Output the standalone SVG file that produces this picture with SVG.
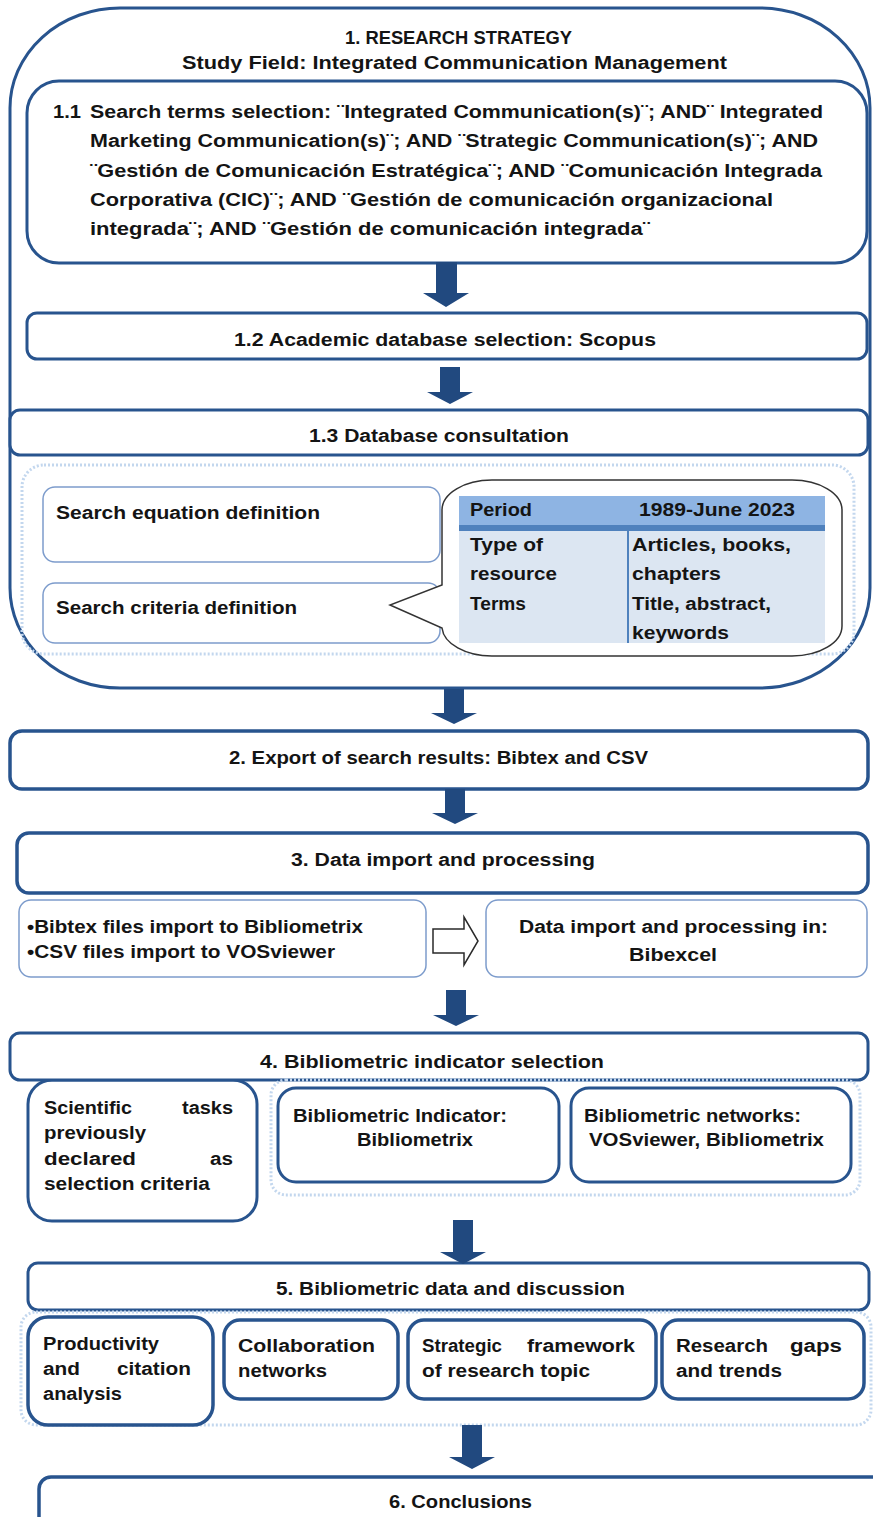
<svg xmlns="http://www.w3.org/2000/svg" width="873" height="1517" viewBox="0 0 873 1517">
<defs>
<style>
.t{font-family:"Liberation Sans",Arial,sans-serif;font-weight:bold;font-size:18px;fill:#141414}
.m{text-anchor:middle}
.bx{fill:#fff;stroke:#28548e;stroke-width:3}
.bxt{fill:#fff;stroke:#28548e;stroke-width:3.5}
.lt{fill:#fff;stroke:#7d9ccc;stroke-width:1.5}
.dot{fill:none;stroke:#c3d7ee;stroke-width:3;stroke-dasharray:2 2}
.arr{fill:#21497f}
.hol{fill:#fff;stroke:#2a2a2a;stroke-width:1.5}
</style>
</defs>
<rect width="873" height="1517" fill="#fff"/>

<g id="strategy">
<rect class="bx" x="10" y="8" width="860" height="680" rx="110" ry="100"/>
<text class="t" x="345" y="44" textLength="227" lengthAdjust="spacingAndGlyphs">1. RESEARCH STRATEGY</text>
<text class="t" x="182" y="69" textLength="545" lengthAdjust="spacingAndGlyphs">Study Field: Integrated Communication Management</text>
</g>

<g id="n1_1">
<rect class="bx" x="27" y="81" width="840" height="182" rx="32"/>
<text class="t" x="53" y="118" textLength="28" lengthAdjust="spacingAndGlyphs">1.1</text>
<text class="t" x="90" y="118" textLength="733" lengthAdjust="spacingAndGlyphs">Search terms selection: ¨Integrated Communication(s)¨; AND¨ Integrated</text>
<text class="t" x="90" y="147" textLength="728" lengthAdjust="spacingAndGlyphs">Marketing Communication(s)¨; AND ¨Strategic Communication(s)¨; AND</text>
<text class="t" x="90" y="177" textLength="732" lengthAdjust="spacingAndGlyphs">¨Gestión de Comunicación Estratégica¨; AND ¨Comunicación Integrada</text>
<text class="t" x="90" y="206" textLength="683" lengthAdjust="spacingAndGlyphs">Corporativa (CIC)¨; AND ¨Gestión de comunicación organizacional</text>
<text class="t" x="90" y="235" textLength="560" lengthAdjust="spacingAndGlyphs">integrada¨; AND ¨Gestión de comunicación integrada¨</text>
</g>

<g id="n1_2">
<rect class="bx" x="27" y="313" width="840" height="46" rx="10"/>
<text class="t" x="234" y="346" textLength="422" lengthAdjust="spacingAndGlyphs">1.2 Academic database selection: Scopus</text>
</g>

<g id="n1_3">
<rect class="bx" x="10" y="410" width="858" height="45" rx="10"/>
<text class="t" x="309" y="442" textLength="260" lengthAdjust="spacingAndGlyphs">1.3 Database consultation</text>
</g>

<g id="consultation">
<rect class="dot" x="22" y="465" width="832" height="189" rx="22"/>
<rect class="lt" x="43" y="487" width="397" height="75" rx="12"/>
<text class="t" x="56" y="519" textLength="264" lengthAdjust="spacingAndGlyphs">Search equation definition</text>
<rect class="lt" x="43" y="583" width="397" height="60" rx="12"/>
<text class="t" x="56" y="614" textLength="241" lengthAdjust="spacingAndGlyphs">Search criteria definition</text>
</g>

<g id="criteria_table">
<path d="M492 480 H792 A50 30 0 0 1 842 510 V626 A50 30 0 0 1 792 656 H492 A50 30 0 0 1 442 628 L390 605 L442 585 V510 A50 30 0 0 1 492 480 Z" fill="#fff" stroke="#333" stroke-width="1.5"/>
<rect x="459" y="496" width="366" height="29" fill="#8eb4e3"/>
<rect x="459" y="525" width="366" height="6" fill="#4f81bd"/>
<rect x="459" y="531" width="366" height="112" fill="#dce6f2"/>
<line x1="628" y1="531" x2="628" y2="643" stroke="#4f81bd" stroke-width="2"/>
<text class="t" x="470" y="516" textLength="62" lengthAdjust="spacingAndGlyphs">Period</text>
<text class="t" x="639" y="516" textLength="156" lengthAdjust="spacingAndGlyphs">1989-June 2023</text>
<text class="t" x="470" y="551" textLength="73" lengthAdjust="spacingAndGlyphs">Type of</text>
<text class="t" x="470" y="580" textLength="87" lengthAdjust="spacingAndGlyphs">resource</text>
<text class="t" x="470" y="610" textLength="56" lengthAdjust="spacingAndGlyphs">Terms</text>
<text class="t" x="632" y="551" textLength="159" lengthAdjust="spacingAndGlyphs">Articles, books,</text>
<text class="t" x="632" y="580" textLength="89" lengthAdjust="spacingAndGlyphs">chapters</text>
<text class="t" x="632" y="610" textLength="139" lengthAdjust="spacingAndGlyphs">Title, abstract,</text>
<text class="t" x="632" y="639" textLength="97" lengthAdjust="spacingAndGlyphs">keywords</text>
</g>

<g id="n2">
<rect class="bxt" x="10" y="731" width="858" height="58" rx="12"/>
<text class="t" x="229" y="764" textLength="419" lengthAdjust="spacingAndGlyphs">2. Export of search results: Bibtex and CSV</text>
</g>

<g id="n3">
<rect class="bxt" x="17" y="833" width="851" height="60" rx="12"/>
<text class="t" x="291" y="866" textLength="304" lengthAdjust="spacingAndGlyphs">3. Data import and processing</text>
</g>

<g id="n3_left">
<rect class="lt" x="19" y="900" width="407" height="77" rx="12"/>
<text class="t" x="27" y="933" textLength="336" lengthAdjust="spacingAndGlyphs">•Bibtex files import to Bibliometrix</text>
<text class="t" x="27" y="958" textLength="308" lengthAdjust="spacingAndGlyphs">•CSV files import to VOSviewer</text>
</g>

<g id="n3_right">
<rect class="lt" x="486" y="900" width="381" height="77" rx="12"/>
<text class="t" x="519" y="933" textLength="309" lengthAdjust="spacingAndGlyphs">Data import and processing in:</text>
<text class="t" x="629" y="961" textLength="88" lengthAdjust="spacingAndGlyphs">Bibexcel</text>
</g>

<g id="n4">
<rect class="bx" x="28" y="1080" width="229" height="141" rx="24"/>
<rect class="bx" x="10" y="1033" width="858" height="47" rx="10"/>
<text class="t" x="260" y="1068" textLength="344" lengthAdjust="spacingAndGlyphs">4. Bibliometric indicator selection</text>
</g>

<g id="n4_tasks">
<text class="t" x="44" y="1114" textLength="88" lengthAdjust="spacingAndGlyphs">Scientific</text>
<text class="t" x="182" y="1114" textLength="51" lengthAdjust="spacingAndGlyphs">tasks</text>
<text class="t" x="44" y="1139" textLength="102" lengthAdjust="spacingAndGlyphs">previously</text>
<text class="t" x="44" y="1165" textLength="92" lengthAdjust="spacingAndGlyphs">declared</text>
<text class="t" x="210" y="1165" textLength="23" lengthAdjust="spacingAndGlyphs">as</text>
<text class="t" x="44" y="1190" textLength="166" lengthAdjust="spacingAndGlyphs">selection criteria</text>
</g>

<g id="n4_tools">
<rect class="dot" x="271" y="1080" width="589" height="115" rx="15"/>
<rect class="bx" x="278" y="1088" width="281" height="94" rx="18"/>
<text class="t" x="293" y="1122" textLength="214" lengthAdjust="spacingAndGlyphs">Bibliometric Indicator:</text>
<text class="t" x="357" y="1146" textLength="116" lengthAdjust="spacingAndGlyphs">Bibliometrix</text>
<rect class="bx" x="571" y="1088" width="280" height="94" rx="18"/>
<text class="t" x="584" y="1122" textLength="217" lengthAdjust="spacingAndGlyphs">Bibliometric networks:</text>
<text class="t" x="589" y="1146" textLength="235" lengthAdjust="spacingAndGlyphs">VOSviewer, Bibliometrix</text>
</g>

<g id="n5">
<rect class="bx" x="28" y="1263" width="841" height="47" rx="10"/>
<text class="t" x="276" y="1295" textLength="349" lengthAdjust="spacingAndGlyphs">5. Bibliometric data and discussion</text>
</g>

<g id="n5_items">
<rect class="dot" x="21" y="1312" width="850" height="113" rx="15"/>
<rect class="bxt" x="28" y="1317" width="185" height="108" rx="20"/>
<text class="t" x="43" y="1350" textLength="116" lengthAdjust="spacingAndGlyphs">Productivity</text>
<text class="t" x="43" y="1375" textLength="37" lengthAdjust="spacingAndGlyphs">and</text>
<text class="t" x="117" y="1375" textLength="74" lengthAdjust="spacingAndGlyphs">citation</text>
<text class="t" x="43" y="1400" textLength="79" lengthAdjust="spacingAndGlyphs">analysis</text>
<rect class="bxt" x="224" y="1320" width="174" height="79" rx="16"/>
<text class="t" x="238" y="1352" textLength="137" lengthAdjust="spacingAndGlyphs">Collaboration</text>
<text class="t" x="238" y="1377" textLength="89" lengthAdjust="spacingAndGlyphs">networks</text>
<rect class="bxt" x="408" y="1320" width="248" height="79" rx="16"/>
<text class="t" x="422" y="1352" textLength="80" lengthAdjust="spacingAndGlyphs">Strategic</text>
<text class="t" x="527" y="1352" textLength="108" lengthAdjust="spacingAndGlyphs">framework</text>
<text class="t" x="422" y="1377" textLength="168" lengthAdjust="spacingAndGlyphs">of research topic</text>
<rect class="bxt" x="662" y="1320" width="202" height="79" rx="16"/>
<text class="t" x="676" y="1352" textLength="92" lengthAdjust="spacingAndGlyphs">Research</text>
<text class="t" x="790" y="1352" textLength="52" lengthAdjust="spacingAndGlyphs">gaps</text>
<text class="t" x="676" y="1377" textLength="106" lengthAdjust="spacingAndGlyphs">and trends</text>
</g>

<g id="n6">
<rect class="bxt" x="39" y="1477" width="860" height="80" rx="12"/>
<text class="t" x="389" y="1508" textLength="143" lengthAdjust="spacingAndGlyphs">6. Conclusions</text>
</g>

<g id="connectors">
<polygon class="arr" points="436,262 457,262 457,293 469,293 446,307 423,293 436,293"/>
<polygon class="arr" points="440,367 460,367 460,392 473,392 450,404 427,392 440,392"/>
<polygon class="arr" points="444,689 464,689 464,713 477,713 454,724 431,713 444,713"/>
<polygon class="arr" points="445,789 465,789 465,813 478,813 455,824 432,813 445,813"/>
<polygon class="arr" points="446,990 466,990 466,1015 479,1015 456,1026 433,1015 446,1015"/>
<polygon class="arr" points="453,1220 473,1220 473,1252 486,1252 463,1264 440,1252 453,1252"/>
<polygon class="arr" points="462,1425 482,1425 482,1457 495,1457 472,1469 449,1457 462,1457"/>
<polygon class="hol" points="433,929 464,929 464,917 478,941 464,965 464,953 433,953"/>
</g>
</svg>
